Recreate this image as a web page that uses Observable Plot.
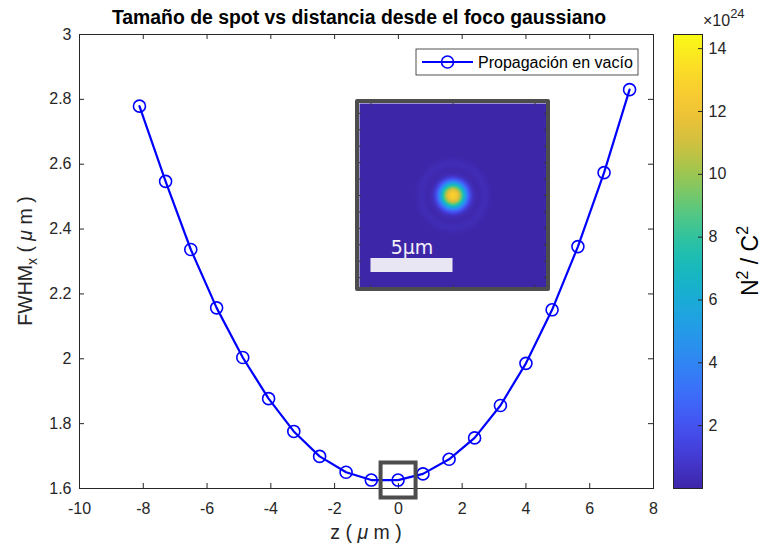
<!DOCTYPE html>
<html>
<head>
<meta charset="utf-8">
<script src="https://cdn.jsdelivr.net/npm/d3@7"></script>
<script src="https://cdn.jsdelivr.net/npm/@observablehq/plot@0.6"></script>
<style>
  body { margin: 0; background: #fff; }
  #fig { position: relative; width: 763px; height: 549px; overflow: hidden; background: #fff;
         font-family: "Liberation Sans", Arial, Helvetica, sans-serif; }
  #fig > svg, #fig > div { position: absolute; }
  #inset { left: 355px; top: 99px; border: 4px solid #4d4d4d; border-radius: 2px; line-height: 0; }
</style>
</head>
<body>
<div id="fig"></div>
<script>
// Spot size (FWHM along x) against distance from the Gaussian focus
const zPos = [-8.12, -7.30, -6.51, -5.70, -4.88, -4.07, -3.28, -2.47, -1.64, -0.85,
              -0.01, 0.77, 1.59, 2.39, 3.20, 4.00, 4.82, 5.63, 6.45, 7.25];
const fwhm = [2.779, 2.547, 2.337, 2.157, 2.004, 1.877, 1.776, 1.699, 1.650, 1.626,
              1.626, 1.645, 1.690, 1.756, 1.856, 1.986, 2.151, 2.346, 2.574, 2.830];
const xTicks = [-10, -8, -6, -4, -2, 0, 2, 4, 6, 8];
const yTicks = [1.6, 1.8, 2, 2.2, 2.4, 2.6, 2.8, 3];

// Colour bar (N^2/C^2, ×10^24)
const cbRange = [0, 14.45];
const cbTicks = [2, 4, 6, 8, 10, 12, 14];

// Field intensity at the focus: radial profile (µm → ×10^24 N²/C²)
const spotRadius = [0, 0.2, 0.35, 0.5, 0.65, 0.8, 1.0, 1.2, 1.4, 1.6, 1.85, 2.05, 2.25, 2.5];
const spotLevel  = [13.0, 12.4, 11.3, 9.4, 7.0, 4.6, 2.0, 0.6, 0.15, 0.1, 0.3, 0.3, 0.1, 0];
const insetTicksX = [-5, 0, 5];
const insetTicksY = [-5, -4, -3, -2, -1, 0, 1, 2, 3, 4, 5];
const scaleBar = [{length: 5, label: "5µm"}];

const titleText = "Tamaño de spot vs distancia desde el foco gaussiano";
const seriesName = "Propagación en vacío";

const data = zPos.map((z, i) => ({z, w: fwhm[i]}));
const focus = data.reduce((a, b) => Math.abs(b.z) < Math.abs(a.z) ? b : a);

const parula = d3.interpolateRgbBasis([
  "#3e26a8", "#4743e8", "#3f6bfe", "#2c8ef0", "#1ca9de", "#10bcb8",
  "#4cc98a", "#a4c647", "#eebc3a", "#fdd22e", "#f9fb15"
]);
const colorScale = {type: "linear", domain: cbRange, interpolate: parula};

const fig = document.getElementById("fig");
const fmt = d => String(+d.toFixed(2));
const axisColor = "#262626";

// ---- main axes ----
const W = 763, H = 549, mL = 79, mR = 110, mT = 34, mB = 61;
const innerW = W - mL - mR, innerH = H - mT - mB;

const main = Plot.plot({
  width: W, height: H,
  marginLeft: mL, marginRight: mR, marginTop: mT, marginBottom: mB,
  style: {fontSize: "16px", fontFamily: "Liberation Sans, Arial, Helvetica, sans-serif",
          color: axisColor, background: "transparent", overflow: "visible"},
  x: {domain: [-10, 8]},
  y: {domain: [1.6, 3]},
  marks: [
    Plot.frame({stroke: axisColor, strokeWidth: 1}),
    Plot.tickX(xTicks, {x: d => d, insetTop: innerH - 5, stroke: axisColor}),
    Plot.tickX(xTicks, {x: d => d, insetBottom: innerH - 5, stroke: axisColor}),
    Plot.tickY(yTicks, {y: d => d, insetRight: innerW - 5, stroke: axisColor}),
    Plot.tickY(yTicks, {y: d => d, insetLeft: innerW - 5, stroke: axisColor}),
    Plot.axisX({ticks: xTicks, tickSize: 0, tickPadding: 14, tickFormat: fmt, label: null}),
    Plot.axisY({ticks: yTicks, tickSize: 0, tickPadding: 8, tickFormat: fmt, label: null}),
    Plot.line(data, {x: "z", y: "w", stroke: "#0000ff", strokeWidth: 2.2}),
    Plot.dot(data, {x: "z", y: "w", r: 6, stroke: "#0000ff", strokeWidth: 1.6, fill: "none"}),
    // box marking the focal plane
    Plot.dot([focus], {x: "z", y: "w", symbol: "square", r: 19.75,
                       stroke: "#4d4d4d", strokeWidth: 4, fill: "none"})
  ]
});
main.style.left = "0px"; main.style.top = "0px";
fig.appendChild(main);

const s = d3.select(main);
s.append("text").attr("x", 359).attr("y", 24).attr("text-anchor", "middle")
  .attr("font-size", 19.4).attr("font-weight", "bold").attr("fill", "#000").text(titleText);

const xl = s.append("text").attr("x", mL + innerW / 2).attr("y", 539)
  .attr("text-anchor", "middle").attr("font-size", 19.5).attr("fill", axisColor);
xl.append("tspan").text("z ( ");
xl.append("tspan").attr("font-style", "italic").text("μ");
xl.append("tspan").text(" m )");

const yl = s.append("text").attr("transform", `translate(32,${mT + innerH / 2}) rotate(-90)`)
  .attr("text-anchor", "middle").attr("font-size", 19.5).attr("fill", axisColor);
yl.append("tspan").text("FWHM");
yl.append("tspan").attr("font-size", 14).attr("dy", 5).text("x");
yl.append("tspan").attr("dy", -5).text(" ( ");
yl.append("tspan").attr("font-style", "italic").text("μ");
yl.append("tspan").text(" m )");

// legend
const lg = s.append("g");
lg.append("rect").attr("x", 416).attr("y", 49).attr("width", 222).attr("height", 26)
  .attr("fill", "#fff").attr("stroke", axisColor).attr("stroke-width", 0.8);
lg.append("line").attr("x1", 422).attr("x2", 473).attr("y1", 62).attr("y2", 62)
  .attr("stroke", "#0000ff").attr("stroke-width", 2.2);
lg.append("circle").attr("cx", 447.5).attr("cy", 62).attr("r", 6)
  .attr("fill", "none").attr("stroke", "#0000ff").attr("stroke-width", 1.6);
lg.append("text").attr("x", 478).attr("y", 62).attr("dy", "0.35em").attr("text-anchor", "start")
  .attr("font-size", 16).attr("fill", "#000").text(seriesName);

// ---- colour bar ----
const cbW = 29;
const cb = Plot.plot({
  width: 90, height: H,
  marginLeft: 0, marginRight: 90 - cbW, marginTop: mT, marginBottom: mB,
  style: {fontSize: "16px", fontFamily: "Liberation Sans, Arial, Helvetica, sans-serif",
          color: axisColor, background: "transparent", overflow: "visible"},
  x: {domain: [0, 1], axis: null},
  y: {domain: cbRange},
  color: colorScale,
  marks: [
    Plot.raster({fill: (x, y) => y, x1: 0, x2: 1, y1: cbRange[0], y2: cbRange[1], pixelSize: 1}),
    Plot.frame({stroke: axisColor, strokeWidth: 1}),
    Plot.tickY(cbTicks, {y: d => d, insetLeft: cbW - 4, stroke: axisColor}),
    Plot.axisY({anchor: "right", ticks: cbTicks, tickSize: 0, tickPadding: 6, tickFormat: fmt, label: null})
  ]
});
cb.style.left = "673px"; cb.style.top = "0px";
fig.appendChild(cb);

const c = d3.select(cb);
const ex = c.append("text").attr("x", 30).attr("y", 26).attr("text-anchor", "start")
  .attr("fill", axisColor).attr("font-size", 16);
ex.append("tspan").text("×10");
ex.append("tspan").attr("font-size", 13).attr("dy", -8).text("24");

const ul = c.append("text").attr("transform", `translate(85,${mT + innerH / 2}) rotate(-90)`)
  .attr("text-anchor", "middle").attr("font-size", 23).attr("fill", "#000");
ul.append("tspan").text("N");
ul.append("tspan").attr("font-size", 16).attr("dy", -10).text("2");
ul.append("tspan").attr("dy", 10).text(" / C");
ul.append("tspan").attr("font-size", 16).attr("dy", -10).text("2");

// ---- inset: field at the focus ----
const profile = d3.scaleLinear().domain(spotRadius).range(spotLevel).clamp(true);
const iW = 187, iH = 184;
const inset = Plot.plot({
  width: iW, height: iH, margin: 0,
  style: {background: "transparent"},
  x: {domain: [-5.7, 5.7], axis: null},
  y: {domain: [-5.6, 5.6], axis: null},
  color: colorScale,
  marks: [
    Plot.raster({fill: (x, y) => profile(Math.hypot(x, y)),
                 x1: -5.7, x2: 5.7, y1: -5.6, y2: 5.6, pixelSize: 1}),
    Plot.tickY(insetTicksY, {y: d => d, insetRight: iW - 2, stroke: "#333"}),
    Plot.tickY(insetTicksY, {y: d => d, insetLeft: iW - 2, stroke: "#333"}),
    Plot.tickX(insetTicksX, {x: d => d, insetBottom: iH - 2, stroke: "#333"}),
    Plot.tickX(insetTicksX, {x: d => d, insetTop: iH - 2, stroke: "#333"}),
    Plot.rect(scaleBar, {x1: d => -d.length, x2: 0, insetTop: 155, insetBottom: 15, fill: "#e8e6f2"}),
    Plot.text(scaleBar, {x: d => -d.length / 2, frameAnchor: "top", dy: 144, text: "label",
                         fill: "#f2f0f8", fontSize: 19, fontFamily: "DejaVu Sans", lineAnchor: "middle"})
  ]
});
const insetBox = document.createElement("div");
insetBox.id = "inset";
insetBox.appendChild(inset);
fig.appendChild(insetBox);
</script>
</body>
</html>
